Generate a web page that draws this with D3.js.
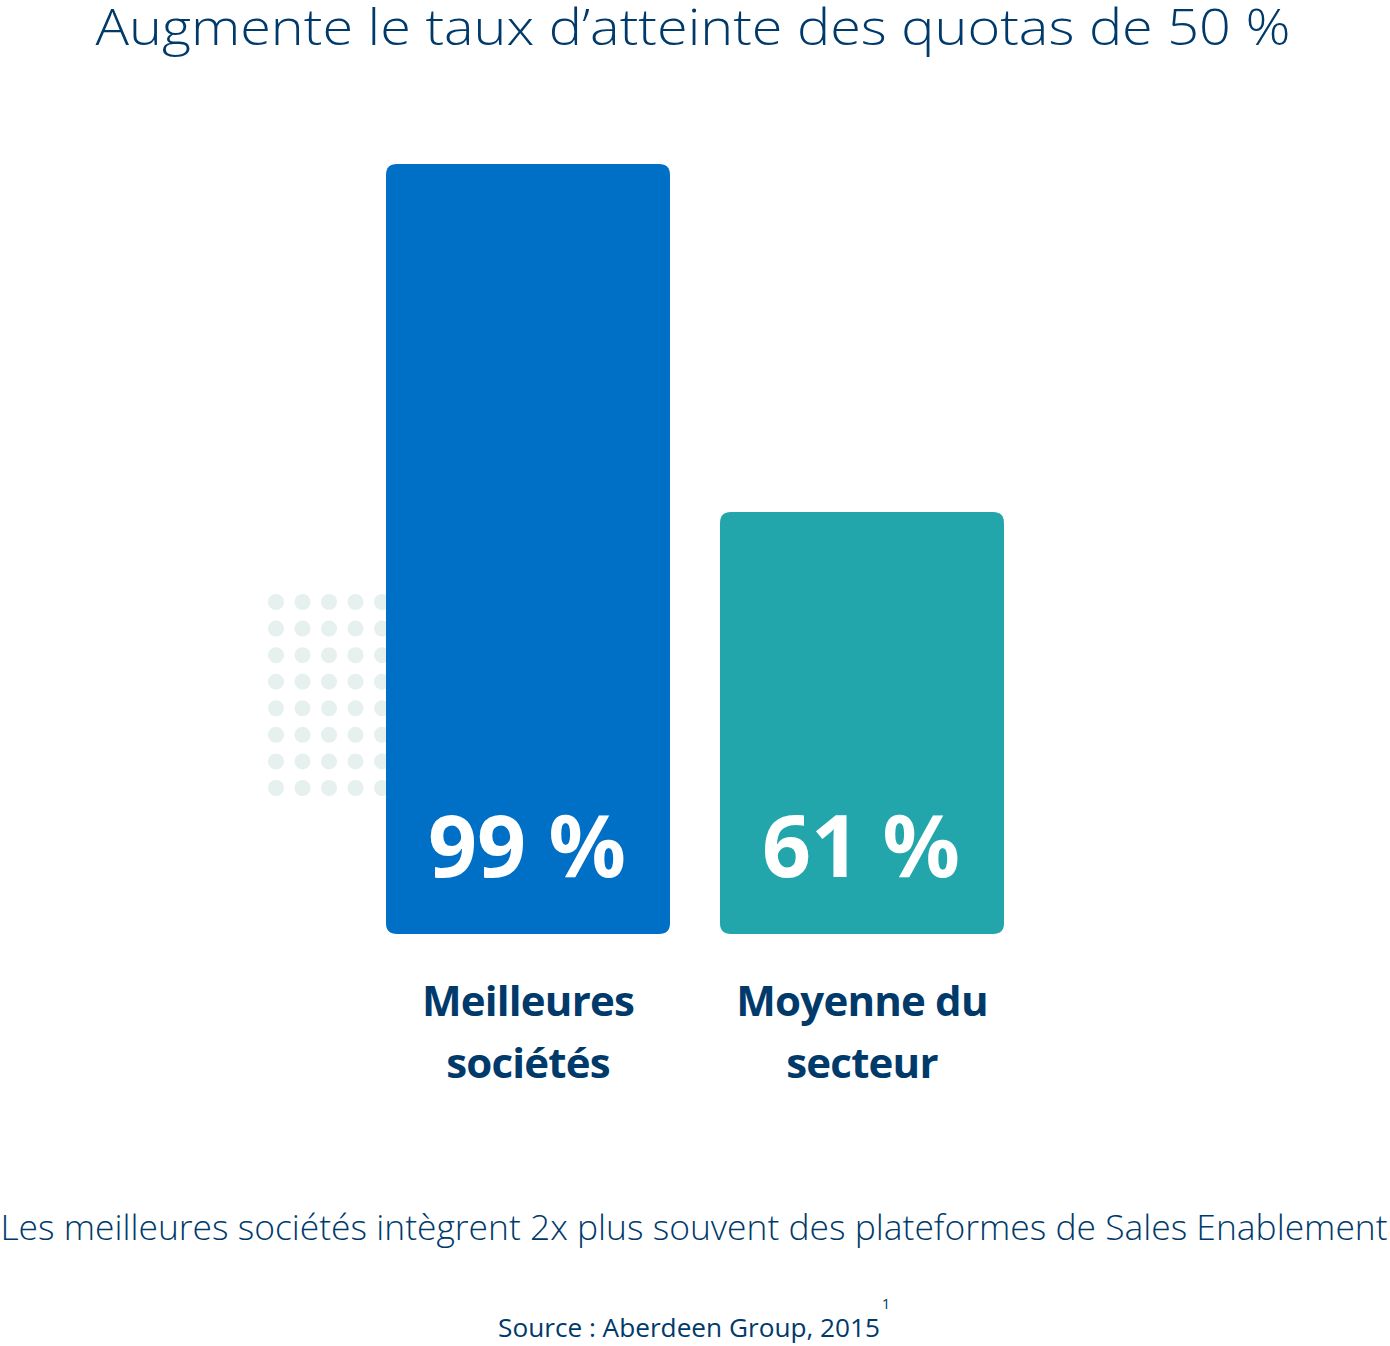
<!DOCTYPE html>
<html><head><meta charset="utf-8">
<script src="https://cdn.jsdelivr.net/npm/d3@7/dist/d3.min.js"></script>
<style>body{margin:0;background:#fff}svg{display:block}</style>
</head><body>
<script>
const title = "Augmente le taux d’atteinte des quotas de 50 %";
const categories = [["Meilleures", "sociétés"], ["Moyenne du", "secteur"]];
const values = [99, 61];
const valueLabels = ["99 %", "61 %"];
const subtitle = "Les meilleures sociétés intègrent 2x plus souvent des plateformes de Sales Enablement";
const source = "Source : Aberdeen Group, 2015";
const footnote = "1";
const dotCols = [0, 1, 2, 3, 4];
const dotRows = [0, 1, 2, 3, 4, 5, 6, 7];

const W = 1390, H = 1346;
const svg = d3.select("body").append("svg").attr("width", W).attr("height", H);
const dark = "#003a6b";
const colors = ["#006fc6", "#22a6ab"];

function fit(sel, target) {
  const n = sel.node();
  const fs = parseFloat(sel.attr("font-size"));
  const w = n.getComputedTextLength();
  if (w > 0) sel.attr("font-size", fs * target / w);
}

// title
svg.append("text").attr("x", 693).attr("y", 45).attr("text-anchor", "middle")
  .attr("font-family", "Open Sans").attr("font-weight", 300).attr("font-size", 49)
  .attr("textLength", 1195).attr("lengthAdjust", "spacingAndGlyphs")
  .attr("fill", dark).text(title);

const x = d3.scaleBand().domain(d3.range(values.length)).range([386, 1004]).paddingInner(50/334);
const y = d3.scaleLinear().domain([14.9, 99]).range([934, 164]);

// dots
const dx = d3.scaleLinear().domain([0, 4]).range([276, 382]);
const dy = d3.scaleLinear().domain([0, 7]).range([602, 788]);
const dots = svg.append("g");
dotRows.forEach(r => dotCols.forEach(c => {
  dots.append("circle").attr("cx", dx(c)).attr("cy", dy(r)).attr("r", 8).attr("fill", "#e6f0ee");
}));

// bars
svg.append("g").selectAll("path").data(values).join("path")
  .attr("fill", (d, i) => colors[i])
  .attr("d", (d, i) => {
    const x0 = x(i), w = x.bandwidth(), y0 = y(d), y1 = y(y.domain()[0]), r = 11;
    return `M${x0},${y1 - r} L${x0},${y0 + r} Q${x0},${y0} ${x0 + r},${y0} L${x0 + w - r},${y0} Q${x0 + w},${y0} ${x0 + w},${y0 + r} L${x0 + w},${y1 - r} Q${x0 + w},${y1} ${x0 + w - r},${y1} L${x0 + r},${y1} Q${x0},${y1} ${x0},${y1 - r} Z`;
  });

// value labels
valueLabels.forEach((t, i) => {
  fit(svg.append("text").attr("x", x(i) + x.bandwidth() / 2 - 1).attr("y", 877).attr("text-anchor", "middle")
    .attr("font-family", "Noto Sans").attr("font-weight", 700).attr("font-size", 84)
    .attr("fill", "#fff").text(t), 198);
});

// category labels
categories.forEach((lines, i) => {
  lines.forEach((l, j) => {
    svg.append("text").attr("x", x(i) + x.bandwidth() / 2).attr("y", 1016 + j * 62).attr("text-anchor", "middle")
      .attr("font-family", "Open Sans").attr("font-weight", 700).attr("font-size", 42)
      .attr("letter-spacing", -0.8)
      .attr("fill", dark).text(l);
  });
});

// subtitle
fit(svg.append("text").attr("x", 694).attr("y", 1240).attr("text-anchor", "middle")
  .attr("font-family", "Open Sans").attr("font-weight", 300).attr("font-size", 34)
  .attr("fill", dark).text(subtitle), 1388);

// source
fit(svg.append("text").attr("x", 689).attr("y", 1337).attr("text-anchor", "middle")
  .attr("font-family", "Open Sans").attr("font-weight", 400).attr("font-size", 25)
  .attr("fill", dark).text(source), 382);
svg.append("text").attr("x", 886).attr("y", 1309).attr("text-anchor", "middle")
  .attr("font-family", "Open Sans").attr("font-size", 15).attr("fill", dark).text(footnote);
</script>
</body></html>
